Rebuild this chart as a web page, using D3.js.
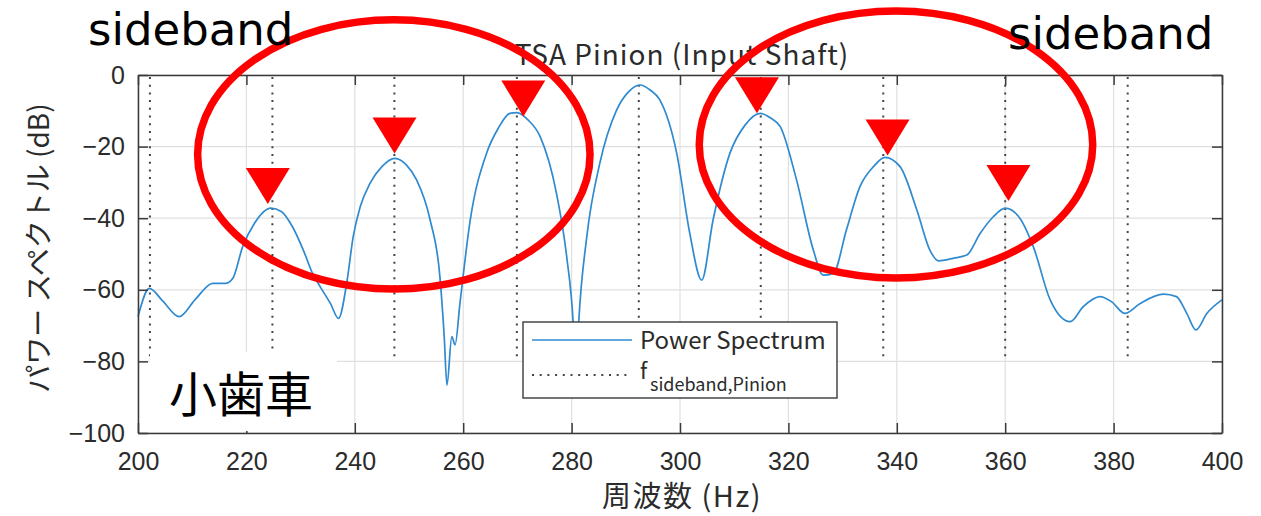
<!DOCTYPE html>
<html><head><meta charset="utf-8">
<script src="https://cdn.jsdelivr.net/npm/d3@7"></script>
<style>body{margin:0;background:#fff}svg{display:block}</style>
</head><body><svg id="c" width="1261" height="516"></svg>
<script>
// ---- data ----
const freqHz = [200,202.1,204.5,207.6,210.5,213.8,216.2,217.5,219.3,221.5,224.5,226.5,228.5,230.5,232.2,233.6,235.5,237.0,238.5,239.7,241.0,242.8,245.0,247.4,249.5,251.4,253.9,255.7,256.5,257.0,257.9,258.5,259.4,261.3,264.3,266.5,268.6,269.9,272.0,274.2,277.2,279.1,280.3,280.8,281.3,282.8,285.2,288.3,290.5,292.6,294.5,296.3,299.4,301.8,304.0,306.1,309.2,312.0,314.8,316.8,318.5,321.5,324.6,326.4,328.3,330.7,333.2,335.7,337.8,340.6,343.7,346.1,347.7,350.4,352.9,355.4,357.8,360.0,362.7,365.2,368.3,372.0,374.4,377.5,379.6,382.1,384.9,389.2,391.6,393.5,395.2,397.2,400];
const powerDb = [-67.5,-59.6,-63.0,-67.5,-62.8,-58.2,-58.2,-56.8,-48.0,-41.4,-37.2,-38.2,-42.4,-48.9,-55.4,-59.1,-63.8,-68.0,-58.2,-45.2,-36.8,-30.3,-25.6,-23.3,-25.1,-29.3,-40.5,-56.3,-73.1,-86.6,-73.1,-75.4,-63.8,-40.5,-21.9,-14.8,-10.7,-10.5,-12.6,-17.2,-33.0,-50.8,-69.4,-85.0,-69.4,-45.2,-24.7,-9.8,-4.7,-2.8,-4.2,-7.0,-21.9,-44.2,-57.3,-40.5,-21.9,-14.0,-10.7,-12.1,-14.4,-29.3,-48.9,-55.9,-55.4,-43.3,-31.2,-25.6,-23.0,-25.6,-37.7,-48.9,-51.9,-51.2,-50.3,-44.2,-39.6,-37.2,-40.0,-48.0,-62.8,-68.9,-64.7,-61.9,-63.3,-66.6,-63.8,-61.2,-61.9,-66.6,-71.2,-66.6,-62.8];
const sidebandHz = [202.2,224.8,247.3,269.9,292.4,314.9,337.5,360.0,382.6];
const sidebandRangeDb = [0, -80];
const markerHz = [223.95,247.33,271.09,314.2,338.3,360.6];
const markerDb = [-36.0,-21.9,-11.6,-10.7,-22.5,-35.2];
const ellipseHz = [247.2, 339.85];
const ellipseDb = [-22.2, -19.4];
const ellipseRxHz = [36.2, 36.3];
const ellipseRyDb = [37.6, 37.3];
const xTicks = [200,220,240,260,280,300,320,340,360,380,400];
const yTicks = [0,-20,-40,-60,-80,-100];
const titleText = "TSA Pinion (Input Shaft)";
const xLabel = "周波数 (Hz)";
const yLabel = "パワー スペクトル (dB)";
const legendLabels = ["Power Spectrum", "f", "sideband,Pinion"];
const noteLabels = ["sideband", "sideband", "小歯車"];

// ---- layout ----
const L = 138, R = 1222, T = 75, B = 433;
const svg = d3.select("#c");
const x = d3.scaleLinear().domain([200,400]).range([L,R]);
const y = d3.scaleLinear().domain([-100,0]).range([B,T]);
const blue = "#2f8ad0", axisCol = "#3a3a3a", txtCol = "#2b2b2b";
const cjk = "'Noto Sans CJK JP', sans-serif";
const lat = "'Liberation Sans', Arial, sans-serif";

// grid
const g = svg.append("g");
g.selectAll(".gx").data(xTicks).join("line")
  .attr("x1",d=>x(d)).attr("x2",d=>x(d)).attr("y1",T).attr("y2",B)
  .attr("stroke","#e0e0e0").attr("stroke-width",1.2);
g.selectAll(".gy").data(yTicks).join("line")
  .attr("x1",L).attr("x2",R).attr("y1",d=>y(d)).attr("y2",d=>y(d))
  .attr("stroke","#e0e0e0").attr("stroke-width",1.2);

// sideband dotted lines
g.selectAll(".sb").data(sidebandHz).join("line")
  .attr("x1",d=>x(d)).attr("x2",d=>x(d))
  .attr("y1",y(sidebandRangeDb[0])+2).attr("y2",y(sidebandRangeDb[1]))
  .attr("stroke","#444").attr("stroke-width",2).attr("stroke-dasharray","2,5.7");

// spectrum
const pts = freqHz.map((f,i)=>[f,powerDb[i]]);
g.append("path").datum(pts)
  .attr("d", d3.line().x(d=>x(d[0])).y(d=>y(d[1])).curve(d3.curveMonotoneX))
  .attr("fill","none").attr("stroke",blue).attr("stroke-width",1.7);

// axes
function styleAxis(sel){
  sel.selectAll("path.domain").attr("stroke",axisCol).attr("stroke-width",1.5);
  sel.selectAll(".tick line").attr("stroke",axisCol).attr("stroke-width",1.5);
  sel.selectAll(".tick text").attr("fill",txtCol).style("font-family",lat).style("font-size","25px");
}
svg.append("g").attr("transform",`translate(0,${B})`)
  .call(d3.axisBottom(x).tickValues(xTicks).tickSizeInner(-10).tickSizeOuter(0).tickPadding(19).tickFormat(d=>d))
  .call(styleAxis);
svg.append("g").attr("transform",`translate(0,${T})`)
  .call(d3.axisTop(x).tickValues(xTicks).tickSizeInner(-10).tickSizeOuter(0).tickFormat(""))
  .call(styleAxis);
svg.append("g").attr("transform",`translate(${L},0)`)
  .call(d3.axisLeft(y).tickValues(yTicks).tickSizeInner(-10).tickSizeOuter(0).tickPadding(13).tickFormat(d=>d===0?"0":"\u2212"+Math.abs(d)))
  .call(styleAxis);
svg.append("g").attr("transform",`translate(${R},0)`)
  .call(d3.axisRight(y).tickValues(yTicks).tickSizeInner(-10).tickSizeOuter(0).tickFormat(""))
  .call(styleAxis);

// title and axis labels
svg.append("text").attr("x",682).attr("y",65).attr("text-anchor","middle")
  .style("font-family",cjk).style("font-size","28px").style("letter-spacing","1px").attr("fill",txtCol).text(titleText);
svg.append("text").attr("x",682).attr("y",507).attr("text-anchor","middle")
  .style("font-family",cjk).style("font-size","29px").style("letter-spacing","1.5px").attr("fill",txtCol).text(xLabel);
svg.append("text").attr("transform","translate(49,248) rotate(-90)").attr("text-anchor","middle")
  .style("font-family",cjk).style("font-size","28px").attr("fill",txtCol).text(yLabel);

// legend
const lg = svg.append("g");
lg.append("rect").attr("x",523).attr("y",322).attr("width",314).attr("height",76)
  .attr("fill","#fff").attr("stroke",axisCol).attr("stroke-width",1.4);
lg.append("line").attr("x1",532).attr("x2",632).attr("y1",340).attr("y2",340)
  .attr("stroke",blue).attr("stroke-width",1.7);
lg.append("line").attr("x1",532).attr("x2",632).attr("y1",375).attr("y2",375)
  .attr("stroke","#444").attr("stroke-width",2).attr("stroke-dasharray","2,5.7");
lg.append("text").attr("x",640).attr("y",349).style("font-family",cjk).style("font-size","24px")
  .attr("fill",txtCol).text(legendLabels[0]);
lg.append("text").attr("x",640).attr("y",379).style("font-family",cjk).style("font-size","22px")
  .attr("fill",txtCol).text(legendLabels[1]);
lg.append("text").attr("x",650).attr("y",391).style("font-family",cjk).style("font-size","18px")
  .attr("fill",txtCol).text(legendLabels[2]);

// 小歯車 label box
svg.append("rect").attr("x",150).attr("y",352).attr("width",187).attr("height",79).attr("fill","#fff");
svg.append("text").attr("x",169).attr("y",412).style("font-family",cjk).style("font-size","48px")
  .attr("fill","#000").text(noteLabels[2]);

// red ellipses
svg.selectAll(".el").data(ellipseHz).join("ellipse")
  .attr("cx",d=>x(d)).attr("cy",(d,i)=>y(ellipseDb[i]))
  .attr("rx",(d,i)=>x(200+ellipseRxHz[i])-x(200))
  .attr("ry",(d,i)=>y(-ellipseRyDb[i])-y(0))
  .attr("fill","none").attr("stroke","#ff0000").attr("stroke-width",7.5);

// red triangle markers (apex at the value)
const tw = 22, th = 36;
svg.selectAll(".mk").data(markerHz).join("path")
  .attr("d",(d,i)=>{const px=x(d), py=y(markerDb[i]); return `M${px-tw},${py-th}L${px+tw},${py-th}L${px},${py}Z`;})
  .attr("fill","#ff0000");

// sideband notes
svg.append("text").attr("x",88).attr("y",45).style("font-family","'DejaVu Sans', sans-serif").style("font-size","45px")
  .attr("fill","#000").text(noteLabels[0]);
svg.append("text").attr("x",1008).attr("y",49).style("font-family","'DejaVu Sans', sans-serif").style("font-size","45px")
  .attr("fill","#000").text(noteLabels[1]);
</script></body></html>
